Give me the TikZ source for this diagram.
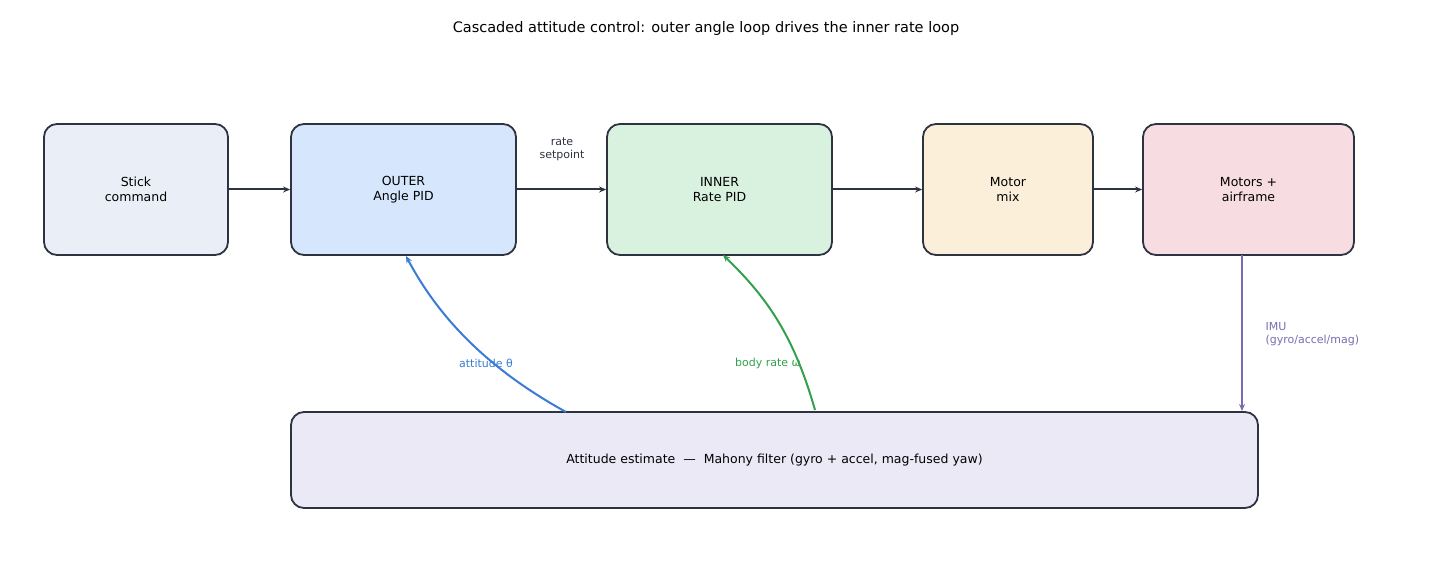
\documentclass[tikz,border=0pt]{standalone}
\usepackage{fontspec}
\setmainfont{DejaVu Sans}
\usetikzlibrary{arrows.meta}
\definecolor{bd}{HTML}{2D3340}
\definecolor{cA}{HTML}{EAEEF6}
\definecolor{cB}{HTML}{D6E7FD}
\definecolor{cC}{HTML}{D9F2DF}
\definecolor{cD}{HTML}{FBEFD9}
\definecolor{cE}{HTML}{F7DCE1}
\definecolor{cF}{HTML}{ECE9F7}
\definecolor{bl}{HTML}{3A7BD5}
\definecolor{gr}{HTML}{34A04E}
\definecolor{pu}{HTML}{7A6BB0}
\begin{document}
\begin{tikzpicture}[x=1pt,y=-1pt,
 box/.style={draw=bd,line width=1.8pt,rounded corners=13pt,align=center,font=\fontsize{12.5}{15}\selectfont,inner sep=0pt},
 arr/.style={-{Stealth[length=7pt,width=6pt]},line width=2pt},
 lab/.style={font=\fontsize{11}{13}\selectfont,align=center}]
\useasboundingbox (0,0) rectangle (1430,572);
\node[font=\fontsize{14.5}{17}\selectfont] (title) at (706,29) {Cascaded attitude control: outer angle loop drives the inner rate loop};
\node[box,fill=cA,minimum width=184pt,minimum height=131pt] (stick) at (136,189.5) {Stick\\command};
\node[box,fill=cB,minimum width=225pt,minimum height=131pt] (outer) at (403.5,189.5) {OUTER\\Angle PID};
\node[box,fill=cC,minimum width=225pt,minimum height=131pt] (inner) at (719.5,189.5) {INNER\\Rate PID};
\node[box,fill=cD,minimum width=170pt,minimum height=131pt] (mix) at (1008,189.5) {Motor\\mix};
\node[box,fill=cE,minimum width=211pt,minimum height=131pt] (mot) at (1248.5,189.5) {Motors +\\airframe};
\node[box,fill=cF,minimum width=967pt,minimum height=96pt] (est) at (774.5,460) {Attitude estimate \ — \ Mahony filter (gyro + accel, mag-fused yaw)};
\draw[arr,bd] (stick) -- (outer);
\draw[arr,bd] (outer) -- (inner);
\draw[arr,bd] (inner) -- (mix);
\draw[arr,bd] (mix) -- (mot);
\node[lab,text=bd] (rs) at (562,149) {rate\\setpoint};
\coordinate (b1) at (566,412); \coordinate (b2) at (406,256);
\draw[arr,bl] (b1) .. controls (490,370) and (440,320) .. (b2);
\coordinate (g1) at (815,410); \coordinate (g2) at (723,255);
\draw[arr,gr] (g1) .. controls (795,340) and (770,300) .. (g2);
\coordinate (p1) at (1242,255); \coordinate (p2) at (1242,411);
\draw[arr,pu] (p1) -- (p2);
\node[lab,text=bl] (la) at (486,363) {attitude θ};
\node[lab,text=gr] (lg) at (768,363) {body rate ω};
\node[lab,text=pu,align=left,anchor=west] (li) at (1262,334) {IMU\\(gyro/accel/mag)};
\end{tikzpicture}
\end{document}
